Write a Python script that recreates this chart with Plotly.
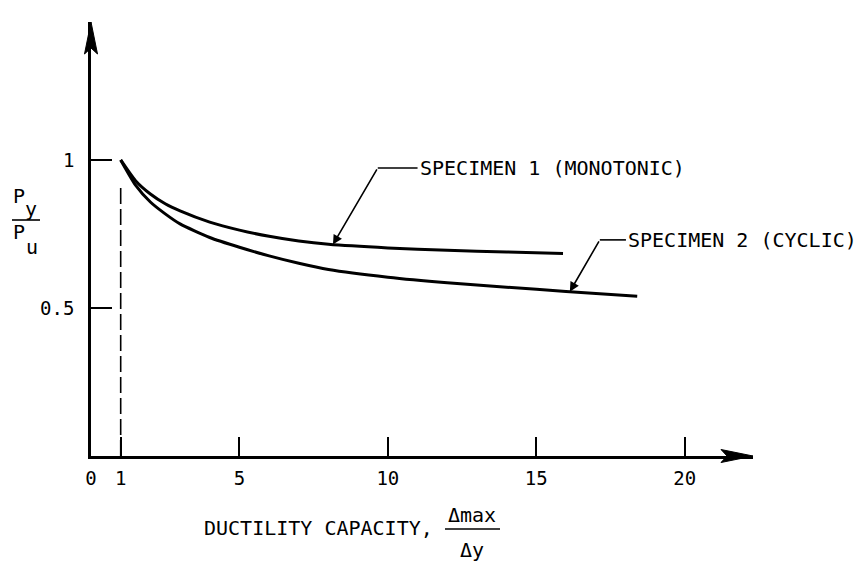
import numpy as np
import plotly.graph_objects as go

# ---- data ----
mono_x = [1, 1.5, 2, 2.5, 3, 4, 5, 6, 7, 8, 10, 12, 14, 15.9]
mono_y = [1.0, 0.93, 0.885, 0.852, 0.828, 0.790, 0.763, 0.742, 0.726, 0.715, 0.703, 0.695, 0.689, 0.684]
cyc_x = [1, 1.5, 2, 2.5, 3, 4, 5, 6, 7, 8, 10, 12, 14, 16, 18.4]
cyc_y = [1.0, 0.915, 0.858, 0.818, 0.784, 0.738, 0.705, 0.676, 0.651, 0.630, 0.604, 0.585, 0.570, 0.556, 0.540]
dash_x = [1, 1]
dash_y = [0, 0.909]
x_tickvals = [0, 1, 5, 10, 15, 20]
x_ticktext = ["0", "1", "5", "10", "15", "20"]
y_tickvals = [0.5, 1]
y_ticktext = ["0.5", "1"]
label_mono = "SPECIMEN 1 (MONOTONIC)"
label_cyc = "SPECIMEN 2 (CYCLIC)"

# ---- layout geometry ----
W, H = 864, 567
L, R, T, B = 91, 111, 22, 111
XMAX, YMAX = 22.3, 1.466
pw, ph = W - L - R, H - T - B
FONT = "DejaVu Sans Mono"


def pxx(px):
    return (px - L) / pw


def pxy(py):
    return (H - B - py) / ph


fig = go.Figure()
fig.add_trace(go.Scatter(x=dash_x, y=dash_y, mode="lines",
                         line=dict(color="black", width=1.6, dash="16px,5px"),
                         hoverinfo="skip", showlegend=False))
fig.add_trace(go.Scatter(x=mono_x, y=mono_y, mode="lines",
                         line=dict(color="black", width=3, shape="spline", smoothing=0.6),
                         showlegend=False))
fig.add_trace(go.Scatter(x=cyc_x, y=cyc_y, mode="lines",
                         line=dict(color="black", width=3, shape="spline", smoothing=0.6),
                         showlegend=False))

annotations = []
shapes = []

# leader lines to curve labels
leaders = [
    (label_mono, mono_x, mono_y, 8.15, 9.66, 0.973, 11.0),
    (label_cyc, cyc_x, cyc_y, 16.13, 17.14, 0.730, 18.02),
]
for text, cx, cy, tipx, elbx, elby, textx in leaders:
    tipy = float(np.interp(tipx, cx, cy))
    annotations.append(dict(x=tipx, y=tipy, ax=elbx, ay=elby, xref="x", yref="y",
                            axref="x", ayref="y", text="", showarrow=True,
                            arrowhead=2, arrowsize=1.2, arrowwidth=1.6, arrowcolor="black"))
    shapes.append(dict(type="line", xref="x", yref="y", x0=elbx, y0=elby, x1=textx, y1=elby,
                       line=dict(color="black", width=1.6)))
    annotations.append(dict(x=textx, y=elby, xref="x", yref="y", text=text, showarrow=False,
                            xanchor="left", yanchor="middle",
                            font=dict(family=FONT, size=20, color="black")))

# axis arrowheads
shapes.append(dict(type="path", xref="paper", yref="paper", xsizemode="pixel", ysizemode="pixel",
                   xanchor=1, yanchor=0, path="M0,0 L-32,6.5 L-26,0 L-32,-6.5 Z",
                   fillcolor="black", line=dict(color="black", width=1)))
shapes.append(dict(type="path", xref="paper", yref="paper", xsizemode="pixel", ysizemode="pixel",
                   xanchor=0, yanchor=1, path="M0,0 L-6.5,-32 L0,-26 L6.5,-32 Z",
                   fillcolor="black", line=dict(color="black", width=1)))

# x-axis title with fraction
tf = dict(family=FONT, size=20, color="black")
annotations.append(dict(x=pxx(202), y=pxy(528), xref="paper", yref="paper",
                        text="DUCTILITY CAPACITY,", showarrow=False,
                        xanchor="left", yanchor="middle", font=tf))
annotations.append(dict(x=pxx(472), y=pxy(515), xref="paper", yref="paper", text="Δmax",
                        showarrow=False, xanchor="center", yanchor="middle", font=tf))
annotations.append(dict(x=pxx(472), y=pxy(550), xref="paper", yref="paper", text="Δy",
                        showarrow=False, xanchor="center", yanchor="middle", font=tf))
shapes.append(dict(type="line", xref="paper", yref="paper", x0=pxx(445), x1=pxx(500),
                   y0=pxy(529), y1=pxy(529), line=dict(color="black", width=1.6)))

# y-axis title  P_y / P_u
for txt, cx, cyy in [("P", 19, 196), ("y", 31, 209), ("P", 19, 232), ("u", 32, 247)]:
    annotations.append(dict(x=pxx(cx), y=pxy(cyy), xref="paper", yref="paper", text=txt,
                            showarrow=False, xanchor="center", yanchor="middle", font=tf))
shapes.append(dict(type="line", xref="paper", yref="paper", x0=pxx(12), x1=pxx(40),
                   y0=pxy(220), y1=pxy(220), line=dict(color="black", width=1.6)))

fig.update_layout(
    width=W, height=H, margin=dict(l=L, r=R, t=T, b=B, pad=0),
    paper_bgcolor="white", plot_bgcolor="white",
    annotations=annotations, shapes=shapes,
    font=dict(family=FONT, size=19, color="black"),
    xaxis=dict(range=[0, XMAX], showgrid=False, zeroline=False, showline=True,
               linecolor="black", linewidth=2.5, ticks="inside", ticklen=19, tickwidth=2,
               tickcolor="black", tickvals=x_tickvals, ticktext=x_ticktext,
               ticklabelstandoff=3, tickfont=dict(family=FONT, size=19, color="black")),
    yaxis=dict(range=[0, YMAX], showgrid=False, zeroline=False, showline=True,
               linecolor="black", linewidth=2.5, ticks="inside", ticklen=21, tickwidth=2,
               tickcolor="black", tickvals=y_tickvals, ticktext=y_ticktext,
               ticklabelstandoff=10, tickfont=dict(family=FONT, size=19, color="black")),
)

fig.write_html("out.html")
